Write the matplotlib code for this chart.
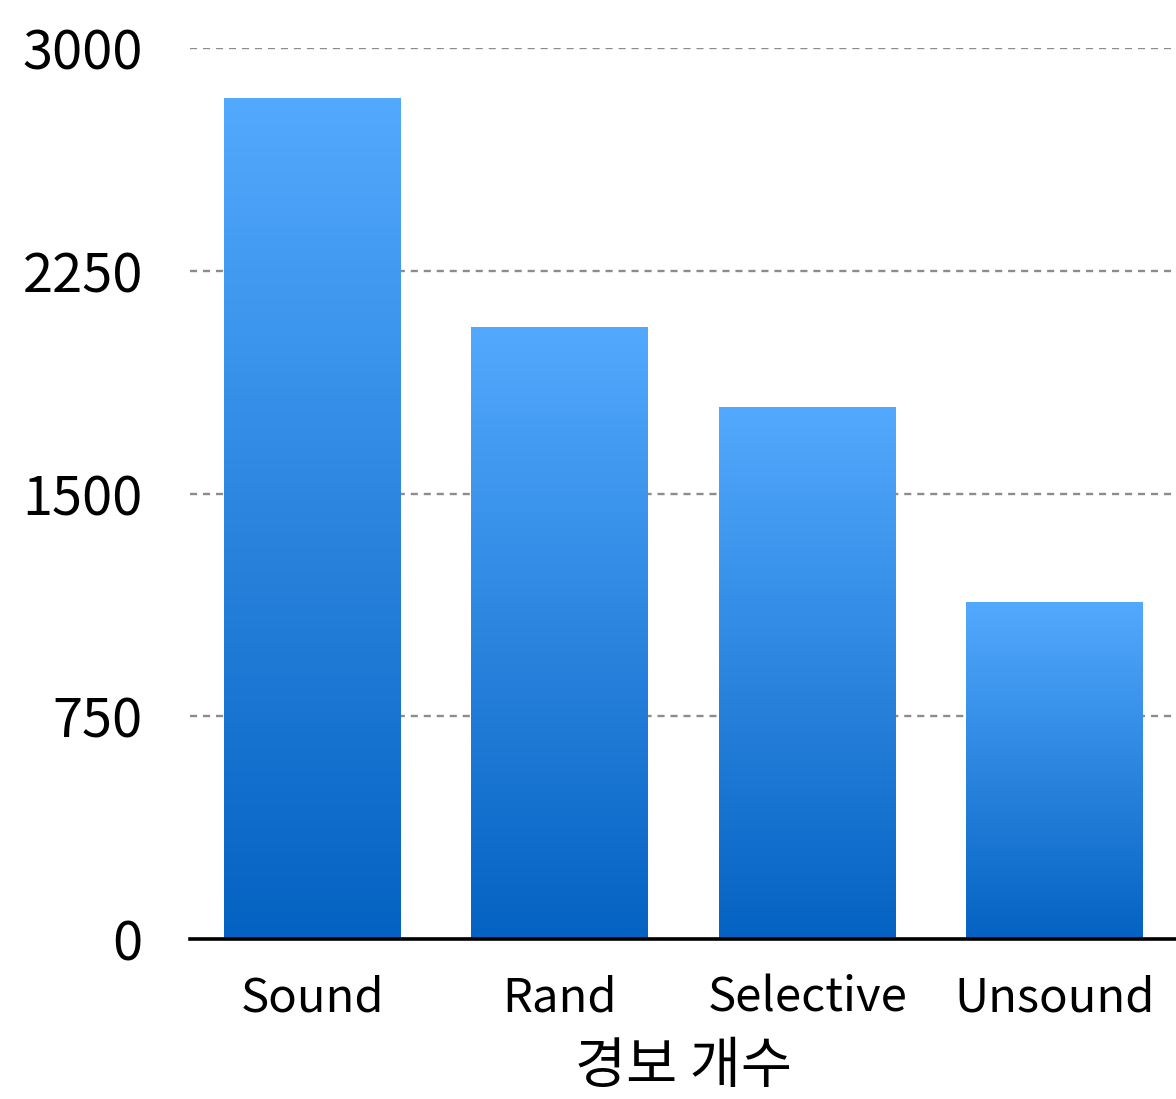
import numpy as np
import matplotlib.pyplot as plt
from matplotlib.colors import LinearSegmentedColormap
from matplotlib.patches import Rectangle

plt.rcParams['font.family'] = ['Noto Sans CJK KR', 'DejaVu Sans']

categories = ["Sound", "Rand", "Selective", "Unsound"]
alert_counts = [2832, 2061, 1791, 1135]
y_ticks = [0, 750, 1500, 2250, 3000]

bar_width = 0.715
top_color = "#53a9fd"
bottom_color = "#0462c2"
grad_cmap = LinearSegmentedColormap.from_list("bar_grad", [bottom_color, top_color])

fig = plt.figure(figsize=(11.76, 10.99), dpi=100)
ax = fig.add_axes([0.1616, 0.1456, 0.8384, 0.8107])

x = np.arange(len(categories))
gradient = np.linspace(0, 1, 256).reshape(-1, 1)

# each bar is a vertical gradient image clipped to its rectangle
for xi, val in zip(x, alert_counts):
    left = xi - bar_width / 2
    img = ax.imshow(gradient, cmap=grad_cmap, origin="lower", aspect="auto",
                    extent=(left, left + bar_width, 0, val), zorder=2,
                    interpolation="bicubic")
    clip = Rectangle((left, 0), bar_width, val, transform=ax.transData,
                     facecolor="none", edgecolor="none")
    ax.add_patch(clip)
    img.set_clip_path(clip)

ax.set_xlim(-0.495, 3.49)
ax.set_ylim(0, 3000)
ax.set_yticks(y_ticks)
ax.set_yticklabels([str(t) for t in y_ticks])
ax.set_xticks(x)
ax.set_xticklabels(categories)

ax.yaxis.grid(True, linestyle=(0, (3, 2.5)), color="#8c8c8c", linewidth=1.7, zorder=0)
ax.set_axisbelow(True)

for side in ["top", "right", "left"]:
    ax.spines[side].set_visible(False)
ax.spines["bottom"].set_linewidth(2.6)
ax.spines["bottom"].set_color("black")
ax.spines["bottom"].set_zorder(3)

ax.tick_params(axis="y", length=0, pad=34, labelsize=39)
ax.tick_params(axis="x", length=0, pad=25, labelsize=34)
ax.set_xlabel("경보 개수", fontsize=40, labelpad=12)

fig.savefig("out.png", dpi=100)
